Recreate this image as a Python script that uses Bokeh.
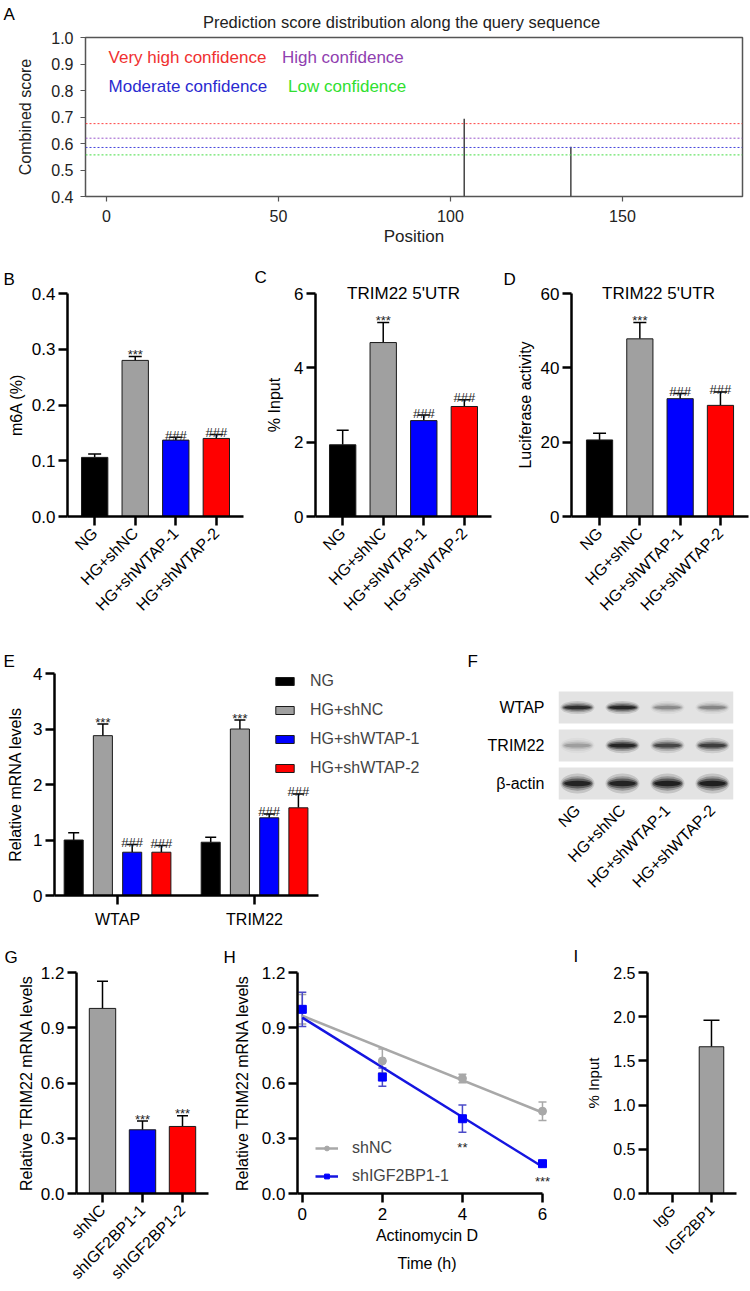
import math
from bokeh.plotting import figure
from bokeh.layouts import column, row
from bokeh.models import (ColumnDataSource, FactorRange, Range1d, FixedTicker, PrintfTickFormatter,
                          Label, Span, Whisker, TeeHead, Legend, LegendItem, LinearAxis)
from bokeh.core.properties import value
from bokeh.embed import file_html
from bokeh.resources import INLINE

FONT = "Liberation Sans"

# ---------------- data ----------------
a_position = [104, 135]
a_score = [0.693, 0.588]
a_threshold = [0.675, 0.620, 0.585, 0.557]
a_threshold_label = ["Very high confidence", "High confidence", "Moderate confidence", "Low confidence"]

wtap_groups = ["NG", "HG+shNC", "HG+shWTAP-1", "HG+shWTAP-2"]
wtap_sig = ["", "***", "###", "###"]
b_m6a = [0.106, 0.280, 0.137, 0.140]
b_m6a_sd = [0.006, 0.007, 0.005, 0.007]
c_input = [1.93, 4.68, 2.58, 2.96]
c_input_sd = [0.39, 0.54, 0.15, 0.18]
d_luc = [20.6, 47.8, 31.7, 29.9]
d_luc_sd = [1.8, 4.4, 1.4, 3.6]

e_genes = ["WTAP", "TRIM22"]
e_ng = [1.00, 0.96]
e_ng_sd = [0.13, 0.09]
e_shnc = [2.88, 3.00]
e_shnc_sd = [0.21, 0.16]
e_sh1 = [0.78, 1.40]
e_sh1_sd = [0.14, 0.07]
e_sh2 = [0.78, 1.58]
e_sh2_sd = [0.12, 0.25]
e_sig_ng = ["", ""]
e_sig_shnc = ["***", "***"]
e_sig_sh1 = ["###", "###"]
e_sig_sh2 = ["###", "###"]

blot_proteins = ["\u03b2-actin", "TRIM22", "WTAP"]   # bottom to top
blot_lanes = wtap_groups
blot_wtap = [0.85, 0.92, 0.30, 0.32]
blot_trim22 = [0.22, 0.92, 0.65, 0.72]
blot_actin = [0.95, 0.95, 1.00, 1.00]

g_groups = ["shNC", "shIGF2BP1-1", "shIGF2BP1-2"]
g_level = [1.005, 0.346, 0.364]
g_level_sd = [0.148, 0.047, 0.058]
g_sig = ["", "***", "***"]

h_time = [0, 2, 4, 6]
h_shnc = [1.00, 0.72, 0.625, 0.447]
h_shnc_sd = [0.08, 0.065, 0.023, 0.05]
h_sh1 = [1.00, 0.632, 0.406, 0.162]
h_sh1_sd = [0.093, 0.05, 0.074, 0.012]
h_sig = ["", "", "**", "***"]
h_fit_time = [0, 6]
h_fit_shnc = [0.965, 0.44]
h_fit_sh1 = [0.955, 0.145]

i_groups = ["IgG", "IGF2BP1"]
i_input = [0.0, 1.66]
i_input_sd = [0.0, 0.30]

BAR_COLORS = ["#000000", "#A0A0A0", "#0000FF", "#FF0000"]


# ---------------- helpers ----------------
def base_fig(width, height, x_range, y_range, bl, br, bt, bb):
    p = figure(width=width, height=height, x_range=x_range, y_range=y_range,
               min_border_left=bl, min_border_right=br, min_border_top=bt, min_border_bottom=bb,
               output_backend="svg", toolbar_location=None)
    p.xgrid.visible = False
    p.ygrid.visible = False
    p.outline_line_color = None
    return p


def prism_axes(p, tick_fs="17px", label_fs="16px"):
    for ax in list(p.xaxis) + list(p.yaxis):
        ax.axis_line_color = "black"
        ax.axis_line_width = 2.5
        ax.major_tick_line_color = "black"
        ax.major_tick_line_width = 2.5
        ax.major_tick_out = 9
        ax.major_tick_in = 0
        ax.minor_tick_line_color = None
        ax.major_label_text_font = FONT
        ax.major_label_text_font_size = tick_fs
        ax.major_label_text_color = "black"
        ax.axis_label_text_font = FONT
        ax.axis_label_text_font_size = label_fs
        ax.axis_label_text_font_style = "normal"
        ax.axis_label_text_color = "black"
        ax.major_label_standoff = 3


def above_text(p, txt, x, y, size="17px", align="left", color="black"):
    # x from frame left, y upward from the bottom of this label's slot in the top panel
    p.add_layout(Label(x=x, y=y, x_units="screen", y_units="screen", text=txt,
                       text_font=FONT, text_font_size=size, text_align=align,
                       text_baseline="middle", text_color=color), "above")


def bar_panel(cats, vals, sds, sigs, colors, width, height, bl, br, bt, bb, pad, ymax, ticks,
              fmt, ylabel, ylabel_standoff, bar_w, cap,
              cat_fs="16px", tick_fs="17px", label_fs="16px"):
    p = base_fig(width, height,
                 FactorRange(factors=cats, range_padding=pad, range_padding_units="absolute"),
                 Range1d(0, ymax), bl, br, bt, bb)
    ups = [v + s for v, s in zip(vals, sds)]
    src = ColumnDataSource(dict(cat=cats, val=vals, up=ups, sig=sigs, color=colors))
    p.vbar(x="cat", top="val", width=bar_w, fill_color="color", line_color="#1a1a1a",
           line_width=1, source=src)
    keep = [i for i, s in enumerate(sds) if s > 0]
    wsrc = ColumnDataSource(dict(cat=[cats[i] for i in keep], val=[vals[i] for i in keep],
                                 up=[ups[i] for i in keep]))
    p.add_layout(Whisker(source=wsrc, base="cat", upper="up", lower="val", dimension="height",
                         line_color="black", line_width=1.5,
                         upper_head=TeeHead(size=cap, line_color="black", line_width=1.5),
                         lower_head=None))
    p.text(x="cat", y="up", text="sig", source=src, text_align="center",
           text_baseline="alphabetic", text_font=value(FONT), text_font_size="13px",
           text_color="#222222", y_offset=-2)
    prism_axes(p, tick_fs, label_fs)
    p.yaxis.ticker = FixedTicker(ticks=ticks)
    p.yaxis.formatter = PrintfTickFormatter(format=fmt)
    p.yaxis.axis_label = ylabel
    p.yaxis.axis_label_standoff = ylabel_standoff
    p.xaxis.major_label_orientation = math.pi / 4
    p.xaxis.major_label_text_font_size = cat_fs
    p.xaxis.major_label_standoff = 5
    return p


# ---------------- panel A ----------------
pa = base_fig(750, 252, Range1d(-6.1, 184.9), Range1d(0.4, 1.0), 85, 8, 36, 56)
pa.outline_line_color = "#555555"
pa.outline_line_width = 1.5
line_cols = ["#FF4040", "#9955CC", "#4444DD", "#44DD44"]
text_cols = ["#F03030", "#9040B0", "#2A2AD0", "#30E030"]
for loc, col in zip(a_threshold, line_cols):
    pa.add_layout(Span(location=loc, dimension="width", line_color=col, line_dash="2 2", line_width=1))
pa.segment(x0=a_position, y0=[0.4] * len(a_position), x1=a_position, y1=a_score,
           line_color="#444444", line_width=1.5)
pa.text(x=[0.6, 51.0, 0.6, 52.8], y=[0.926, 0.926, 0.815, 0.815], text=a_threshold_label,
        text_color=text_cols, text_font=value(FONT), text_font_size="17px",
        text_baseline="middle", text_align="left")
for ax in list(pa.xaxis) + list(pa.yaxis):
    ax.axis_line_color = None
    ax.major_tick_out = 5
    ax.major_tick_in = 0
    ax.major_tick_line_color = "#555555"
    ax.major_tick_line_width = 1.2
    ax.minor_tick_line_color = None
    ax.major_label_text_font = FONT
    ax.major_label_text_font_size = "16px"
    ax.major_label_text_color = "#222222"
    ax.axis_label_text_font = FONT
    ax.axis_label_text_font_style = "normal"
    ax.axis_label_text_color = "#222222"
pa.xaxis.ticker = FixedTicker(ticks=[0, 50, 100, 150])
pa.xaxis.major_label_standoff = 8
pa.xaxis.axis_label = "Position"
pa.xaxis.axis_label_text_font_size = "17px"
pa.xaxis.axis_label_standoff = 2
pa.yaxis.ticker = FixedTicker(ticks=[0.4, 0.5, 0.6, 0.7, 0.8, 0.9, 1.0])
pa.yaxis.formatter = PrintfTickFormatter(format="%.1f")
pa.yaxis.major_label_standoff = 7
pa.yaxis.axis_label = "Combined score"
pa.yaxis.axis_label_text_font_size = "16px"
pa.yaxis.axis_label_standoff = 14
above_text(pa, "Prediction score distribution along the query sequence", 316, 16,
           size="16.5px", align="center", color="#222222")
above_text(pa, "A", -82, 5)

# ---------------- panels B, C, D ----------------
pb = bar_panel(wtap_groups, b_m6a, b_m6a_sd, wtap_sig, BAR_COLORS, 250, 378, 67, 7, 41, 114,
               0.17, 0.4, [0, 0.1, 0.2, 0.3, 0.4], "%.1f", "m6A (%)", 4, 0.65, 13)
above_text(pb, "B", -64, 14)

pc = bar_panel(wtap_groups, c_input, c_input_sd, wtap_sig, BAR_COLORS, 250, 378, 65, 9, 41, 114,
               0.17, 6, [0, 2, 4, 6], "%d", "% Input", 8, 0.65, 12)
above_text(pc, "TRIM22 5'UTR", 88, 0, align="center")
above_text(pc, "C", -61, -3)

pd = bar_panel(wtap_groups, d_luc, d_luc_sd, wtap_sig, BAR_COLORS, 250, 378, 71, 2, 41, 114,
               0.196, 60, [0, 20, 40, 60], "%d", "Luciferase activity", 4, 0.65, 13)
above_text(pd, "TRIM22 5'UTR", 87, 0, align="center")
above_text(pd, "D", -68, -5)

# ---------------- panel E ----------------
e_xmin, e_xmax = -0.46, 1.467
pe = base_fig(462, 302, Range1d(e_xmin, 2.357), Range1d(0, 4), 54, 22, 43, 37)
offsets = [-0.32, -0.107, 0.107, 0.32]
series = [("NG", e_ng, e_ng_sd, e_sig_ng), ("HG+shNC", e_shnc, e_shnc_sd, e_sig_shnc),
          ("HG+shWTAP-1", e_sh1, e_sh1_sd, e_sig_sh1), ("HG+shWTAP-2", e_sh2, e_sh2_sd, e_sig_sh2)]
items = []
for k, (name, vals, sds, sigs) in enumerate(series):
    xs = [g + offsets[k] for g in range(len(e_genes))]
    ups = [v + s for v, s in zip(vals, sds)]
    s = ColumnDataSource(dict(x=xs, val=vals, up=ups, sig=sigs))
    r = pe.vbar(x="x", top="val", width=0.139, fill_color=BAR_COLORS[k], line_color="#1a1a1a",
                line_width=1, source=s)
    pe.add_layout(Whisker(source=s, base="x", upper="up", lower="val", dimension="height",
                          line_color="black", line_width=1.5,
                          upper_head=TeeHead(size=11, line_color="black", line_width=1.5),
                          lower_head=None))
    pe.text(x="x", y="up", text="sig", source=s, text_align="center", text_baseline="alphabetic",
            text_font=value(FONT), text_font_size="13px", text_color="#222222", y_offset=-2)
    items.append(LegendItem(label=name, renderers=[r]))
prism_axes(pe)
pe.yaxis.ticker = FixedTicker(ticks=[0, 1, 2, 3, 4])
pe.yaxis.axis_label = "Relative mRNA levels"
pe.yaxis.axis_label_standoff = 6
pe.xaxis.ticker = FixedTicker(ticks=list(range(len(e_genes))))
pe.xaxis.bounds = (e_xmin, e_xmax)
pe.xaxis.major_label_overrides = {i: g for i, g in enumerate(e_genes)}
pe.xaxis.major_label_text_font_size = "16px"
pe.xaxis.major_label_standoff = 6
leg = Legend(items=items, location=(219, 117), glyph_width=23, glyph_height=10,
             label_standoff=14, label_text_font=FONT, label_text_font_size="16px",
             label_height=20, spacing=9, padding=0, margin=0, border_line_color=None,
             background_fill_alpha=0)
pe.add_layout(leg)
above_text(pe, "E", -51, 12)

# ---------------- panel F (western blot) ----------------
pf = base_fig(288, 302, Range1d(-0.422, 3.467), Range1d(-2.947, 2.895), 96, 17, 43, 37)
rows_y = list(range(len(blot_proteins)))
lane_x = list(range(len(blot_lanes)))
pf.rect(x=[1.5225] * len(rows_y), y=rows_y, width=3.889, height=0.842, fill_color="#E3E3E3",
        line_color=None)
band_thick = [9, 7, 6]   # px, per row (bottom to top)
layers = [(1.08, 2.2, 0.15), (1.0, 1.6, 0.25), (0.94, 1.1, 0.45), (0.84, 0.6, 0.8)]
for r, intens in enumerate([blot_actin, blot_trim22, blot_wtap]):
    for ws, hs, af in layers:
        pf.ellipse(x=lane_x, y=[r] * len(lane_x), width=0.7 * ws,
                   height=band_thick[r] / 38 * hs, fill_color="#111111",
                   fill_alpha=[a * af for a in intens], line_color=None)
pf.text(x=lane_x, y=[-0.421] * len(lane_x), text=blot_lanes, angle=math.pi / 4,
        text_align="right", text_baseline="middle", text_font=value(FONT),
        text_font_size="16px", text_color="black", y_offset=8)
pf.xaxis.visible = False
for ax in pf.yaxis:
    ax.axis_line_color = None
    ax.major_tick_line_color = None
    ax.minor_tick_line_color = None
    ax.major_label_text_font = FONT
    ax.major_label_text_font_size = "16px"
    ax.major_label_text_color = "black"
    ax.major_label_standoff = 8
pf.yaxis.ticker = FixedTicker(ticks=rows_y)
pf.yaxis.major_label_overrides = {i: n for i, n in enumerate(blot_proteins)}
above_text(pf, "F", -91, 12)

# ---------------- panel G ----------------
pg = bar_panel(g_groups, g_level, g_level_sd, g_sig, BAR_COLORS[1:], 222, 359, 76, 14, 40, 98,
               0.15, 1.2, [0, 0.3, 0.6, 0.9, 1.2], "%.1f", "Relative TRIM22 mRNA levels", 3,
               0.66, 11)
above_text(pg, "G", -72, 15)

# ---------------- panel H ----------------
h_xmin = -0.12
ph = base_fig(348, 359, Range1d(h_xmin, 6.35), Range1d(0, 1.2), 75, 14, 40, 98)
gray = "#A8A8A8"
blue = "#1515E0"
l1 = ph.line(h_fit_time, h_fit_shnc, line_color=gray, line_width=2.5)
l2 = ph.line(h_fit_time, h_fit_sh1, line_color=blue, line_width=2.5)
s_gray = ColumnDataSource(dict(t=h_time, m=h_shnc, lo=[m - s for m, s in zip(h_shnc, h_shnc_sd)],
                               hi=[m + s for m, s in zip(h_shnc, h_shnc_sd)]))
s_blue = ColumnDataSource(dict(t=h_time, m=h_sh1, lo=[m - s for m, s in zip(h_sh1, h_sh1_sd)],
                               hi=[m + s for m, s in zip(h_sh1, h_sh1_sd)], sig=h_sig))
ph.add_layout(Whisker(source=s_gray, base="t", upper="hi", lower="lo", dimension="height",
                      line_color=gray, line_width=1.5,
                      upper_head=TeeHead(size=8, line_color=gray, line_width=1.5),
                      lower_head=TeeHead(size=8, line_color=gray, line_width=1.5)))
ph.add_layout(Whisker(source=s_blue, base="t", upper="hi", lower="lo", dimension="height",
                      line_color="#4B4BC8", line_width=1.5,
                      upper_head=TeeHead(size=8, line_color="#4B4BC8", line_width=1.5),
                      lower_head=TeeHead(size=8, line_color="#4B4BC8", line_width=1.5)))
m1 = ph.scatter(x="t", y="m", source=s_gray, marker="circle", size=8, fill_color=gray,
                line_color=gray)
m2 = ph.scatter(x="t", y="m", source=s_blue, marker="square", size=8, fill_color="#0000FF",
                line_color="#0000FF")
ph.text(x="t", y="lo", text="sig", source=s_blue, text_align="center", text_baseline="top",
        text_font=value(FONT), text_font_size="13px", text_color="#222222", y_offset=8)
prism_axes(ph)
ph.yaxis.ticker = FixedTicker(ticks=[0, 0.3, 0.6, 0.9, 1.2])
ph.yaxis.formatter = PrintfTickFormatter(format="%.1f")
ph.yaxis.axis_label = "Relative TRIM22 mRNA levels"
ph.yaxis.axis_label_standoff = 8
ph.xaxis.ticker = FixedTicker(ticks=h_time)
ph.xaxis.bounds = (h_xmin, 6)
ph.xaxis.major_label_standoff = 5
ph.xaxis.axis_label = "Actinomycin D"
ph.xaxis.axis_label_standoff = 4
ax2 = LinearAxis(ticker=FixedTicker(ticks=[]), axis_label="Time (h)", axis_line_color=None,
                 major_tick_line_color=None, minor_tick_line_color=None, major_tick_out=0,
                 major_label_standoff=0, axis_label_standoff=8, axis_label_text_font=FONT,
                 axis_label_text_font_size="16px", axis_label_text_font_style="normal",
                 axis_label_text_color="black")
ph.add_layout(ax2, "below")
hleg = Legend(items=[LegendItem(label="shNC", renderers=[l1, m1]),
                     LegendItem(label="shIGF2BP1-1", renderers=[l2, m2])],
              location=(18, 7), glyph_width=23, glyph_height=12, label_standoff=14,
              label_text_font=FONT, label_text_font_size="16px", label_height=20, spacing=8,
              padding=0, margin=0, border_line_color=None, background_fill_alpha=0)
ph.add_layout(hleg)
above_text(ph, "H", -74, 15)

# ---------------- panel I ----------------
pi_ = bar_panel(i_groups, i_input, i_input_sd, ["", ""], [BAR_COLORS[1]] * 2, 180, 359, 77, 14,
                40, 98, 0.142, 2.5, [0, 0.5, 1.0, 1.5, 2.0, 2.5], "%.1f", "% Input", 8, 0.63, 16,
                cat_fs="15px", tick_fs="16px", label_fs="15px")
above_text(pi_, "I", -74, 16)

layout = column(pa, row(pb, pc, pd), row(pe, pf), row(pg, ph, pi_))
open("out.html", "w").write(file_html(layout, INLINE))
